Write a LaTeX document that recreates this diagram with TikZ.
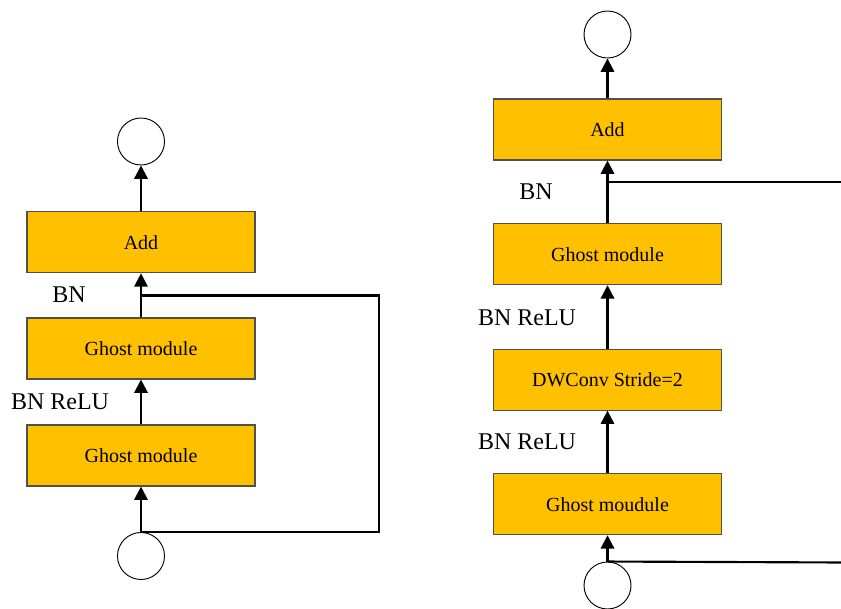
\documentclass[tikz,border=0pt]{standalone}
\usepackage{fontspec}
\setmainfont{Liberation Serif}
\usetikzlibrary{arrows.meta}
\definecolor{boxfill}{HTML}{FFC000}
\definecolor{boxline}{HTML}{505050}
\begin{document}
\begin{tikzpicture}[x=0.75pt,y=-0.75pt,
  blk/.style={draw=boxline,line width=0.8pt,fill=boxfill,rectangle,minimum width=171pt,minimum height=45.75pt,inner sep=0pt,font=\fontsize{15}{18}\selectfont},
  io/.style={draw=black,line width=0.7pt,fill=white,circle,minimum size=35.25pt,inner sep=0pt},
  flow/.style={line width=1.6pt,-{Triangle[width=10pt,length=10pt]}},
  skipline/.style={line width=1.6pt},
  lbl/.style={font=\fontsize{18}{21}\selectfont,inner sep=0pt}]
\useasboundingbox (0,0) rectangle (841,609);
\clip (0,0) rectangle (841,609);
% left diagram
\node[io] (lout) at (141,141.5) {};
\node[blk] (ladd) at (141,242.3) {Add};
\node[blk] (lg1) at (141,348.5) {Ghost module};
\node[blk] (lg2) at (141,455.5) {Ghost module};
\node[io] (lin) at (141,556) {};
\coordinate (lr1) at (379,531.5);
\coordinate (lr2) at (379,295.5);
\coordinate (lj) at (141,295.5);
\draw[flow] (ladd.north) -- (lout.south);
\draw[flow] (lg1.north) -- (ladd.south);
\draw[flow] (lg2.north) -- (lg1.south);
\draw[flow] (lin.north) -- (lg2.south);
\draw[skipline] (lin.north) -| (lr2) -- (lj);
\node[lbl] (lbn) at (69,295) {BN};
\node[lbl] (lbr) at (60,402) {BN ReLU};
% right diagram
\node[io] (rout) at (607.5,34.5) {};
\node[blk] (radd) at (607.5,129.5) {Add};
\node[blk] (rg1) at (607.5,254.2) {Ghost module};
\node[blk] (rdw) at (607.5,379.6) {DWConv Stride=2};
\node[blk] (rg2) at (607.5,504.2) {Ghost moudule};
\node[io] (rin) at (607.5,585.5) {};
\coordinate (rr1) at (845,562.5);
\coordinate (rr2) at (845,181.7);
\coordinate (rj) at (607.5,181.7);
\draw[flow] (radd.north) -- (rout.south);
\draw[flow] (rg1.north) -- (radd.south);
\draw[flow] (rdw.north) -- (rg1.south);
\draw[flow] (rg2.north) -- (rdw.south);
\draw[flow] (rin.north) -- (rg2.south);
\draw[skipline] (rin.north) -- (rr1);
\draw[skipline] (rr2) -- (rj);
\node[lbl] (rbn) at (536,192) {BN};
\node[lbl] (rbr1) at (527,318) {BN ReLU};
\node[lbl] (rbr2) at (527,442) {BN ReLU};
\end{tikzpicture}
\end{document}
